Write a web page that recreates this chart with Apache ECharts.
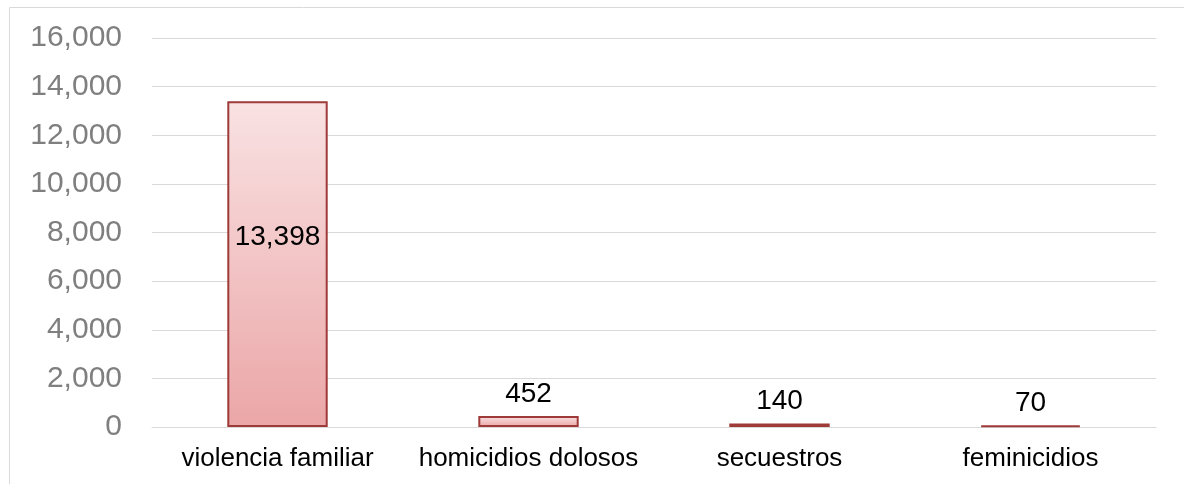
<!DOCTYPE html>
<html>
<head>
<meta charset="utf-8">
<script src="https://cdn.jsdelivr.net/npm/echarts@6/dist/echarts.min.js"></script>
<style>
  html, body { margin: 0; padding: 0; background: #ffffff; }
  #chart { width: 1184px; height: 484px; }
</style>
</head>
<body>
<div id="chart"></div>
<script>
// Categories and counts per crime type
const categories = ['violencia familiar', 'homicidios dolosos', 'secuestros', 'feminicidios'];
const values = [13398, 452, 140, 70];
const yTicks = { min: 0, max: 16000, interval: 2000 };

const chart = echarts.init(document.getElementById('chart'), null, { renderer: 'canvas' });

const FONT = "'Liberation Sans', Arial, sans-serif";
const barFill = new echarts.graphic.LinearGradient(0, 0, 0, 1, [
  { offset: 0, color: '#f9e2e3' },
  { offset: 1, color: '#eba6a7' }
]);

// The tallest bar carries its value inside, the short ones above
const seriesData = values.map((v, i) => {
  const item = { value: v };
  if (i === 0) {
    item.label = { position: 'inside', offset: [0, -27] };
  }
  return item;
});

chart.setOption({
  animation: false,
  backgroundColor: '#ffffff',
  graphic: [{
    type: 'rect',
    shape: { x: 9.5, y: 7.5, width: 1200, height: 500 },
    style: { fill: 'none', stroke: '#d9d9d9', lineWidth: 1 },
    silent: true,
    z: 0
  }],
  grid: { left: 152, right: 28, top: 38, bottom: 57, containLabel: false },
  xAxis: {
    type: 'category',
    data: categories,
    axisLine: { show: true, lineStyle: { color: '#d9d9d9', width: 1 } },
    axisTick: { show: false },
    axisLabel: { interval: 0, color: '#000000', fontFamily: FONT, fontSize: 26, margin: 19 }
  },
  yAxis: {
    type: 'value',
    min: yTicks.min,
    max: yTicks.max,
    interval: yTicks.interval,
    axisLine: { show: false },
    axisTick: { show: false },
    splitLine: { lineStyle: { color: '#d9d9d9', width: 1 } },
    axisLabel: {
      color: '#7f7f7f', fontFamily: FONT, fontSize: 30, margin: 30,
      formatter: v => v.toLocaleString('en-US')
    }
  },
  series: [{
    type: 'bar',
    data: seriesData,
    barWidth: '40%',
    itemStyle: { color: barFill, borderColor: '#9e3a38', borderWidth: 2 },
    label: {
      show: true,
      position: 'top',
      distance: 8,
      color: '#000000',
      fontFamily: FONT,
      fontSize: 28,
      formatter: p => p.value.toLocaleString('en-US')
    }
  }]
});
</script>
</body>
</html>
